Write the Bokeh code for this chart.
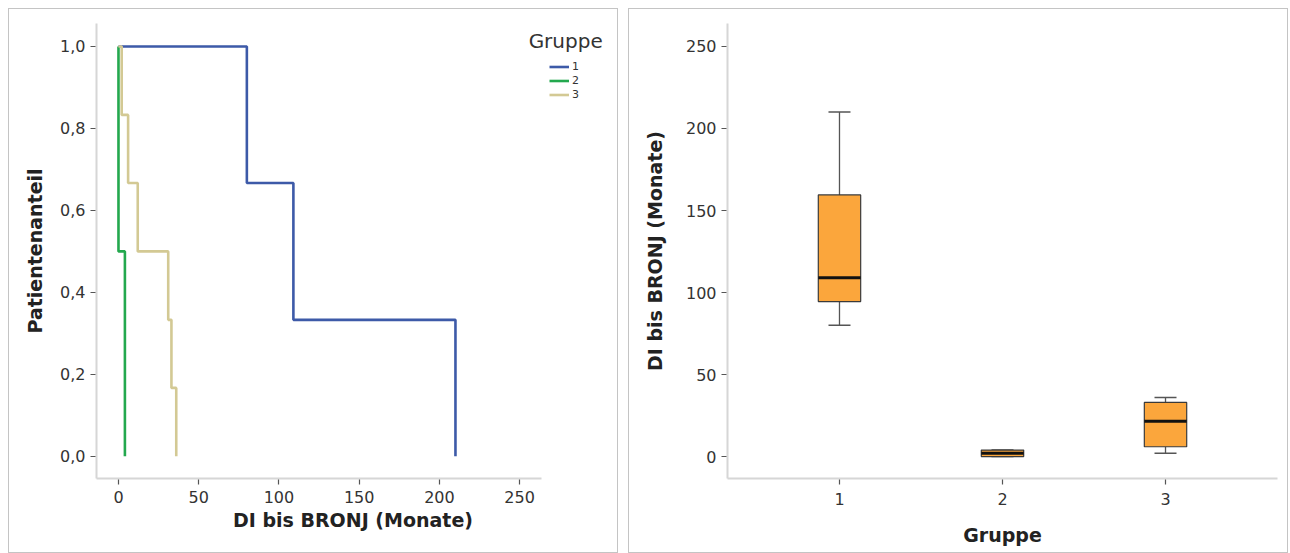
from bokeh.plotting import figure
from bokeh.layouts import row
from bokeh.models import (Legend, LegendItem, Label, FixedTicker, CustomJSTickFormatter,
                          ColumnDataSource, Range1d)
from bokeh.transform import dodge
from bokeh.embed import file_html
from bokeh.resources import INLINE

# ---------------- data ----------------
# Kaplan-Meier curves (time in months, survival proportion)
km_groups = ["1", "2", "3"]
km1_t = [0, 80, 109, 210]
km1_s = [1.0, 0.667, 0.333, 0.0]
km2_t = [0, 0, 4]
km2_s = [1.0, 0.5, 0.0]
km3_t = [0, 2, 6, 12, 31, 33, 36]
km3_s = [1.0, 0.833, 0.667, 0.5, 0.333, 0.167, 0.0]

# Box plot statistics per group
box_groups = [1, 2, 3]
box_min = [80, 0, 2]
box_q1 = [94.5, 0, 6]
box_med = [109, 2, 21.5]
box_q3 = [159.5, 4, 33]
box_max = [210, 4, 36]

x_ticks_km = [0, 50, 100, 150, 200, 250]
y_ticks_km = [0.0, 0.2, 0.4, 0.6, 0.8, 1.0]
y_ticks_box = [0, 50, 100, 150, 200, 250]

BLUE = "#3d5aa8"
GREEN = "#23a84e"
TAN = "#d3c994"
ORANGE = "#fba63c"
FONT = "DejaVu Sans"
TXT = "#333333"
AXIS_GRAY = "#d6d6d6"

panel_style = {"border": "1px solid #c4c4c4", "box-sizing": "border-box"}


def style_axes(p):
    for ax in (p.xaxis[0], p.yaxis[0]):
        ax.axis_line_color = AXIS_GRAY
        ax.axis_line_width = 2
        ax.major_tick_line_color = "#555555"
        ax.major_tick_line_width = 1.2
        ax.major_tick_out = 6
        ax.major_tick_in = -1
        ax.minor_tick_line_color = None
        ax.major_label_text_font = FONT
        ax.major_label_text_font_size = "16px"
        ax.major_label_text_color = TXT
        ax.axis_label_text_font = FONT
        ax.axis_label_text_font_size = "19px"
        ax.axis_label_text_font_style = "bold"
        ax.axis_label_text_color = "#222222"
    p.xgrid.grid_line_color = None
    p.ygrid.grid_line_color = None
    p.outline_line_color = None


# ---------------- left: Kaplan-Meier ----------------
p1 = figure(width=610, height=545, output_backend="svg", toolbar_location=None,
            x_range=Range1d(-13.7, 306), y_range=Range1d(-0.054, 1.056),
            min_border_left=87, min_border_right=10, min_border_top=14, min_border_bottom=76,
            styles=panel_style)
style_axes(p1)
p1.xaxis.bounds = (-13.7, 263.7)
p1.xaxis.ticker = FixedTicker(ticks=x_ticks_km)
p1.yaxis.ticker = FixedTicker(ticks=y_ticks_km)
p1.yaxis.formatter = CustomJSTickFormatter(code="return tick.toFixed(1).replace('.', ',');")
p1.xaxis.axis_label = "DI bis BRONJ (Monate)"
p1.yaxis.axis_label = "Patientenanteil"
p1.xaxis.major_label_standoff = 6
p1.xaxis.axis_label_standoff = 3
p1.yaxis.axis_label_standoff = 11

r1 = p1.step(km1_t, km1_s, mode="after", line_color=BLUE, line_width=2.6)
r2 = p1.step(km2_t, km2_s, mode="after", line_color=GREEN, line_width=2.6)
r3 = p1.step(km3_t, km3_s, mode="after", line_color=TAN, line_width=2.6)

leg = Legend(items=[LegendItem(label=km_groups[0], renderers=[r1]),
                    LegendItem(label=km_groups[1], renderers=[r2]),
                    LegendItem(label=km_groups[2], renderers=[r3])],
             location=(453, 377), padding=0, margin=0, spacing=1,
             glyph_width=20, glyph_height=13, label_height=13, label_standoff=3,
             label_text_font=FONT, label_text_font_size="11px", label_text_color=TXT,
             background_fill_alpha=0, border_line_color=None)
p1.add_layout(leg)
p1.add_layout(Label(x=255.6, y=1.014, text="Gruppe", text_baseline="middle",
                    text_font=FONT, text_font_size="20px", text_color=TXT))

# ---------------- right: box plot ----------------
src = ColumnDataSource(dict(x=box_groups, lo=box_min, q1=box_q1, med=box_med,
                            q3=box_q3, hi=box_max))
p2 = figure(width=660, height=545, output_backend="svg", toolbar_location=None,
            x_range=Range1d(0.313, 3.687), y_range=Range1d(-13.35, 264),
            min_border_left=98, min_border_right=12, min_border_top=12, min_border_bottom=76,
            styles=panel_style)
style_axes(p2)
p2.xaxis.ticker = FixedTicker(ticks=box_groups)
p2.yaxis.ticker = FixedTicker(ticks=y_ticks_box)
p2.xaxis.axis_label = "Gruppe"
p2.yaxis.axis_label = "DI bis BRONJ (Monate)"
p2.xaxis.major_label_standoff = 8
p2.xaxis.axis_label_standoff = 16
p2.yaxis.axis_label_standoff = 17

WHISK = "#555555"
p2.segment(x0="x", y0="q3", x1="x", y1="hi", source=src, line_color=WHISK, line_width=1.3)
p2.segment(x0="x", y0="q1", x1="x", y1="lo", source=src, line_color=WHISK, line_width=1.3)
p2.scatter(x="x", y="hi", source=src, marker="dash", size=22, line_color=WHISK, line_width=1.5)
p2.scatter(x="x", y="lo", source=src, marker="dash", size=22, line_color=WHISK, line_width=1.5)
p2.vbar(x="x", width=0.26, bottom="q1", top="q3", source=src,
        fill_color=ORANGE, line_color="#3a3a3a", line_width=1.2)
p2.segment(x0=dodge("x", -0.13, range=p2.x_range), y0="med",
           x1=dodge("x", 0.13, range=p2.x_range), y1="med",
           source=src, line_color="#111111", line_width=3)

layout = row(p1, p2, spacing=10, margin=(8, 0, 0, 8))
open("out.html", "w").write(file_html(layout, INLINE))
